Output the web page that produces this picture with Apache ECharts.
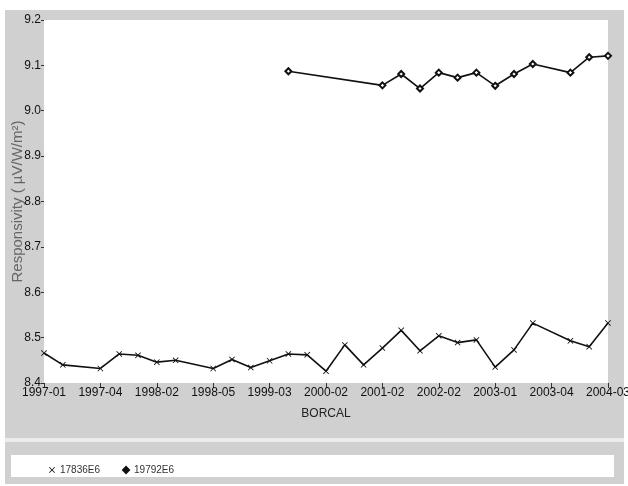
<!DOCTYPE html>
<html>
<head>
<meta charset="utf-8">
<script src="https://cdn.jsdelivr.net/npm/echarts@6/dist/echarts.min.js"></script>
<style>html,body{margin:0;padding:0;background:#fff;}#c{width:628px;height:486px;}</style>
</head>
<body>
<div id="c"></div>
<script>
var categories = ['1997-01','1997-02','1997-03','1997-04','1997-07','1997-10','1998-02','1998-03','1998-04','1998-05','1998-08','1998-11','1999-03','1999-06','1999-10','2000-02','2000-06','2000-10','2001-02','2001-06','2001-10','2002-02','2002-06','2002-09','2003-01','2003-02','2003-03','2003-04','2003-09','2004-01','2004-03'];
var series17836 = [8.466,8.440,null,8.432,8.464,8.461,8.446,8.450,null,8.432,8.452,8.434,8.449,8.464,8.462,8.426,8.484,8.440,8.477,8.516,8.471,8.504,8.489,8.495,8.435,8.473,8.532,null,8.493,8.480,8.532];
var series19792 = [null,null,null,null,null,null,null,null,null,null,null,null,null,9.087,null,null,null,null,9.056,9.081,9.049,9.084,9.073,9.084,9.055,9.081,9.103,null,9.084,9.118,9.121];
var yTicks = {min: 8.4, max: 9.2, step: 0.1};
var seriesNames = ['17836E6', '19792E6'];

var FONT = "'Liberation Sans',Arial,sans-serif";
var xPath = 'path://M0,1 L1,0 L5,4 L9,0 L10,1 L6,5 L10,9 L9,10 L5,6 L1,10 L0,9 L4,5 Z';

var chart = echarts.init(document.getElementById('c'), null, {renderer: 'canvas'});
chart.setOption({
  animation: false,
  backgroundColor: '#ffffff',
  graphic: [
    {type: 'rect', z: -10, silent: true, shape: {x: 5, y: 10, width: 619, height: 428}, style: {fill: '#d0d0d0'}},
    {type: 'rect', z: -10, silent: true, shape: {x: 5, y: 438, width: 619, height: 4}, style: {fill: '#ececec'}},
    {type: 'rect', z: -10, silent: true, shape: {x: 5, y: 442, width: 619, height: 42}, style: {fill: '#d0d0d0'}},
    {type: 'rect', z: -9, silent: true, shape: {x: 11, y: 455, width: 603, height: 22}, style: {fill: '#ffffff'}}
  ],
  grid: {left: 44, right: 20, top: 20, bottom: 103, show: true, backgroundColor: '#ffffff', borderWidth: 0, containLabel: false, outerBoundsMode: 'none'},
  legend: {
    left: 44, top: 460, itemGap: 22, itemWidth: 6, itemHeight: 6,
    textStyle: {fontFamily: FONT, fontSize: 10, color: '#333'},
    data: [
      {name: seriesNames[0], icon: xPath},
      {name: seriesNames[1], icon: 'diamond'}
    ]
  },
  xAxis: {
    type: 'category', data: categories, boundaryGap: false,
    name: 'BORCAL', nameLocation: 'middle', nameGap: 25,
    nameTextStyle: {fontFamily: FONT, fontSize: 12, color: '#222'},
    axisLine: {show: false},
    axisTick: {show: true, interval: 2, length: 5, lineStyle: {color: '#333'}},
    axisLabel: {interval: 2, fontFamily: FONT, fontSize: 12, color: '#111', margin: 4, showMaxLabel: true},
    splitLine: {show: false}
  },
  yAxis: {
    type: 'value', min: yTicks.min, max: yTicks.max, interval: yTicks.step,
    name: 'Responsivity ( \u00b5V/W/m\u00b2)', nameLocation: 'middle', nameGap: 19, nameRotate: 90,
    nameMoveOverlap: false,
    nameTextStyle: {fontFamily: FONT, fontSize: 15, color: '#666'},
    axisLine: {show: false},
    axisTick: {show: true, length: 3, lineStyle: {color: '#333'}},
    axisLabel: {fontFamily: FONT, fontSize: 12, color: '#111', margin: 3, formatter: function (v) { return v.toFixed(1); }},
    splitLine: {show: false}
  },
  series: [
    {name: seriesNames[0], type: 'line', data: series17836, connectNulls: true,
     symbol: xPath, symbolSize: 6, showAllSymbol: true,
     lineStyle: {color: '#111', width: 1.6}, itemStyle: {color: '#111'}},
    {name: seriesNames[1], type: 'line', data: series19792, connectNulls: true,
     symbol: 'emptyDiamond', symbolSize: 6, showAllSymbol: true,
     lineStyle: {color: '#111', width: 1.6}, itemStyle: {color: '#111', borderColor: '#111', borderWidth: 1.2}}
  ]
});
</script>
</body>
</html>
